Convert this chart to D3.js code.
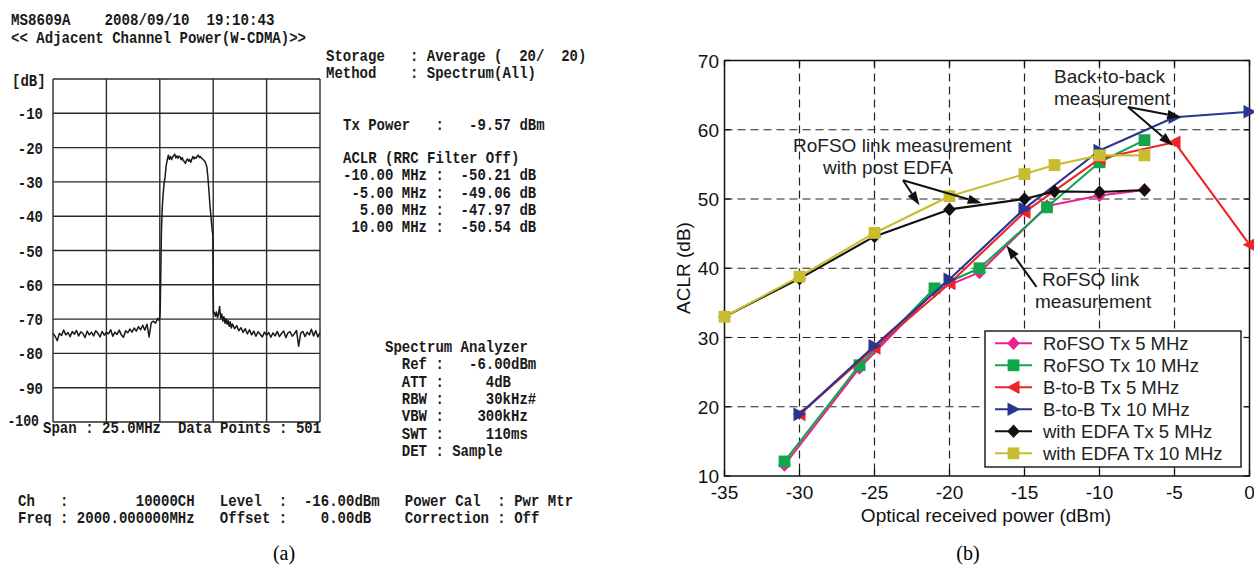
<!DOCTYPE html>
<html>
<head>
<meta charset="utf-8">
<script src="https://cdn.jsdelivr.net/npm/d3@7"></script>
<style>
  html, body { margin: 0; padding: 0; background: #fff; }
  svg { display: block; }
</style>
</head>
<body>
<svg id="fig" width="1254" height="570"></svg>
<script>
// ================= Panel (a): spectrum analyzer screen =================
// Trace: frequency offset from 2000 MHz carrier (MHz) and level (dB)
const specFreq = [
  -12.5,-12.3,-12.1,-11.9,-11.7,-11.5,-11.3,-11.1,-10.9,-10.7,-10.5,-10.3,-10.1,-9.9,-9.7,-9.5,
  -9.3,-9.1,-8.9,-8.7,-8.5,-8.3,-8.1,-7.9,-7.7,-7.5,-7.3,-7.1,-6.9,-6.7,-6.5,-6.3,-6.1,-5.9,
  -5.7,-5.5,-5.3,-5.1,-4.9,-4.7,-4.5,-4.3,-4.1,-3.9,-3.7,-3.5,-3.3,-3.1,-2.9,-2.7,-2.6,-2.5,
  -2.46,-2.4,-2.35,-2.28,-2.2,-2.1,-2.0,-1.9,
  -1.8,-1.7,-1.6,-1.5,-1.4,-1.3,-1.2,-1.1,-1.0,-0.9,-0.8,-0.7,-0.6,-0.5,-0.4,-0.3,-0.2,-0.1,
  0.0,0.1,0.2,0.3,0.4,0.5,0.6,0.7,0.8,0.9,1.0,1.1,1.2,1.3,1.4,1.5,1.6,1.7,1.8,
  1.9,2.0,2.1,2.2,2.3,2.4,2.47,2.49,2.53,
  2.6,2.7,2.8,2.9,3.0,3.1,3.2,3.3,3.4,3.5,3.6,3.7,3.8,3.9,4.0,4.1,4.2,4.3,4.5,4.7,4.9,5.1,
  5.3,5.5,5.7,5.9,6.1,6.3,6.5,6.7,6.9,7.1,7.3,7.5,7.7,7.9,8.1,8.3,8.5,8.7,8.9,9.1,9.3,9.5,
  9.7,9.9,10.1,10.3,10.5,10.7,10.9,11.1,11.3,11.5,11.7,11.9,12.1,12.3,12.5
];
const specLevel = [
  -74.2,-75.0,-76.3,-74.1,-74.8,-73.2,-74.6,-73.9,-75.1,-73.6,-74.4,-73.3,-74.9,-73.7,-74.2,-75.4,
  -73.5,-74.6,-73.8,-74.9,-73.4,-74.1,-75.2,-73.6,-74.7,-73.9,-74.3,-73.1,-75.0,-73.8,-74.5,-73.2,-74.6,-75.3,
  -73.4,-74.0,-72.9,-73.8,-72.6,-73.5,-72.2,-73.1,-71.8,-73.2,-71.5,-75.2,-71.0,-70.6,-71.2,-69.8,-70.3,-69.5,
  -67.0,-55.0,-45.0,-38.0,-34.0,-30.5,-28.4,-25.2,
  -23.6,-22.2,-23.4,-22.6,-23.5,-22.8,-22.3,-21.9,-23.0,-22.4,-23.1,-22.5,-22.7,-23.5,-22.9,-23.8,-24.1,-24.6,
  -23.7,-23.3,-24.0,-23.5,-24.3,-23.4,-22.6,-23.3,-22.8,-23.1,-22.5,-22.2,-22.9,-22.6,-23.1,-23.3,-23.6,-23.9,-24.6,
  -25.5,-28.5,-32.5,-37.0,-40.5,-44.0,-45.5,-60.5,-68.3,
  -68.0,-69.2,-67.9,-69.6,-68.4,-66.3,-69.8,-68.5,-70.6,-69.3,-71.2,-69.9,-71.5,-70.4,-72.1,-70.8,-72.6,-71.4,-72.8,-71.9,-73.4,-72.5,
  -73.9,-72.8,-74.3,-73.1,-74.6,-73.5,-75.0,-73.7,-74.4,-75.2,-73.8,-74.7,-73.9,-75.3,-74.0,-74.9,-73.6,-75.1,-74.2,-73.5,-75.4,-74.0,
  -73.7,-75.0,-74.3,-73.3,-77.9,-74.1,-73.6,-75.1,-73.8,-74.6,-73.0,-74.9,-73.4,-75.2,-73.9
];
const specLevelTicks = [-10, -20, -30, -40, -50, -60, -70, -80, -90, -100];
const specFreqGrid = [-12.5, -7.5, -2.5, 2.5, 7.5, 12.5];

const screenHeader = [
  "MS8609A    2008/09/10  19:10:43",
  "<< Adjacent Channel Power(W-CDMA)>>"
];
const screenSettings = [
  "Storage   : Average (  20/  20)",
  "Method    : Spectrum(All)"
];
const txPowerLine = "Tx Power   :   -9.57 dBm";
const aclrLines = [
  "ACLR (RRC Filter Off)",
  "-10.00 MHz :  -50.21 dB",
  " -5.00 MHz :  -49.06 dB",
  "  5.00 MHz :  -47.97 dB",
  " 10.00 MHz :  -50.54 dB"
];
const analyzerLines = [
  "Spectrum Analyzer",
  "  Ref :   -6.00dBm",
  "  ATT :     4dB",
  "  RBW :     30kHz#",
  "  VBW :    300kHz",
  "  SWT :     110ms",
  "  DET : Sample"
];
const footerLines = [
  "Ch   :        10000CH   Level  :  -16.00dBm   Power Cal  : Pwr Mtr",
  "Freq : 2000.000000MHz   Offset :    0.00dB    Correction : Off"
];
const spanLine = "Span : 25.0MHz  Data Points : 501";

// ================= Panel (b): ACLR vs optical received power =================
const powerTicks = [-35, -30, -25, -20, -15, -10, -5, 0];
const aclrTicks = [10, 20, 30, 40, 50, 60, 70];

const rofso5Power  = [-31, -26, -21, -18, -13.5, -10, -7];
const rofso5Aclr   = [11.6, 25.6, 36.7, 39.4, 49.0, 50.5, 51.3];
const rofso10Power = [-31, -26, -21, -18, -13.5, -10, -7];
const rofso10Aclr  = [12.1, 26.0, 37.1, 40.0, 48.8, 55.3, 58.5];
const b2b5Power    = [-30, -25, -20, -15, -10, -5, 0];
const b2b5Aclr     = [18.9, 28.5, 37.8, 48.1, 55.8, 58.2, 43.4];
const b2b10Power   = [-30, -25, -20, -15, -10, -5, 0];
const b2b10Aclr    = [18.9, 28.8, 38.4, 48.6, 57.0, 61.8, 62.6];
const edfa5Power   = [-35, -30, -25, -20, -15, -13, -10, -7];
const edfa5Aclr    = [33.0, 38.5, 44.6, 48.5, 50.0, 51.1, 51.0, 51.3];
const edfa10Power  = [-35, -30, -25, -20, -15, -13, -10, -7];
const edfa10Aclr   = [33.0, 38.8, 45.1, 50.4, 53.6, 54.9, 56.3, 56.3];

const seriesNames   = ["RoFSO Tx 5 MHz", "RoFSO Tx 10 MHz", "B-to-B Tx 5 MHz",
                       "B-to-B Tx 10 MHz", "with EDFA Tx 5 MHz", "with EDFA Tx 10 MHz"];
const seriesColors  = ["#ec1f8e", "#12a64b", "#ee2328", "#2a3592", "#111111", "#c8bd2f"];
const seriesMarkers = ["diamond", "square", "left", "right", "diamond", "square"];
const seriesPower   = [rofso5Power, rofso10Power, b2b5Power, b2b10Power, edfa5Power, edfa10Power];
const seriesAclr    = [rofso5Aclr, rofso10Aclr, b2b5Aclr, b2b10Aclr, edfa5Aclr, edfa10Aclr];

// =====================================================================
const svg = d3.select("#fig");
svg.append("rect").attr("width", 1254).attr("height", 570).attr("fill", "#fff");

// ---------- panel (a) ----------
const A = svg.append("g");
const fx = d3.scaleLinear().domain([-12.5, 12.5]).range([53, 320]);
const fy = d3.scaleLinear().domain([-100, 0]).range([422, 79]);
const MONO = "'Liberation Mono', 'DejaVu Sans Mono', monospace";

function mono(g, x, y, str, cw) {
  g.append("text")
    .attr("x", x).attr("y", y)
    .attr("textLength", str.length * cw)
    .attr("lengthAdjust", "spacingAndGlyphs")
    .style("white-space", "pre")
    .attr("font-family", MONO).attr("font-size", 17).attr("font-weight", "bold")
    .attr("fill", "#1a1a1a")
    .text(str);
}

// grid
A.append("g").selectAll("line").data(d3.range(-100, 1, 10)).join("line")
  .attr("x1", fx(-12.5)).attr("x2", fx(12.5))
  .attr("y1", d => fy(d)).attr("y2", d => fy(d))
  .attr("stroke", "#2a2a2a").attr("stroke-width", 1.4);
A.append("g").selectAll("line").data(specFreqGrid).join("line")
  .attr("x1", d => fx(d)).attr("x2", d => fx(d))
  .attr("y1", fy(0)).attr("y2", fy(-100))
  .attr("stroke", "#2a2a2a").attr("stroke-width", 1.4);

// trace
const specPts = specFreq.map((f, i) => [f, specLevel[i]]);
A.append("path").datum(specPts)
  .attr("d", d3.line().x(d => fx(d[0])).y(d => fy(d[1])))
  .attr("fill", "none").attr("stroke", "#1a1a1a").attr("stroke-width", 1.5)
  .attr("stroke-linejoin", "round");

const CW = 8.43;
// level labels
specLevelTicks.forEach(v => {
  const label = String(v);
  if (v === -100) mono(A, 39 - label.length * 7.9, fy(v) + 4, label, 7.9);
  else mono(A, 43 - label.length * CW, fy(v) + 6, label, CW);
});
mono(A, 12, 86, "[dB]", CW);
mono(A, 43, 433, spanLine, CW);

mono(A, 11, 25, screenHeader[0], 8.5);
mono(A, 11, 43, screenHeader[1], CW);

screenSettings.forEach((s, i) => mono(A, 326, 61 + i * 17, s, 8.4));
mono(A, 343, 130, txPowerLine, 8.4);
aclrLines.forEach((s, i) => mono(A, 343, 163 + i * 17.3, s, 8.4));
analyzerLines.forEach((s, i) => mono(A, 385, 352 + i * 17.3, s, 8.4));
footerLines.forEach((s, i) => mono(A, 18, 506 + i * 17, s, 8.41));

svg.append("text").attr("x", 284).attr("y", 560).attr("text-anchor", "middle")
  .attr("font-family", "'Liberation Serif', 'Times New Roman', serif").attr("font-size", 20)
  .text("(a)");

// ---------- panel (b) ----------
const B = svg.append("g");
const SANS = "'Liberation Sans', Arial, Helvetica, sans-serif";
const px = d3.scaleLinear().domain([-35, 0]).range([724.5, 1249.5]);
const py = d3.scaleLinear().domain([10, 70]).range([476, 60.5]);

// dashed grid
B.append("g").selectAll("line").data(powerTicks.slice(1, -1)).join("line")
  .attr("x1", d => px(d)).attr("x2", d => px(d)).attr("y1", py(70)).attr("y2", py(10))
  .attr("stroke", "#222").attr("stroke-width", 1.2).attr("stroke-dasharray", "8,5");
B.append("g").selectAll("line").data(aclrTicks.slice(1, -1)).join("line")
  .attr("x1", px(-35)).attr("x2", px(0)).attr("y1", d => py(d)).attr("y2", d => py(d))
  .attr("stroke", "#222").attr("stroke-width", 1.2).attr("stroke-dasharray", "8,5");

// box + inward ticks
B.append("rect").attr("x", px(-35)).attr("y", py(70))
  .attr("width", px(0) - px(-35)).attr("height", py(10) - py(70))
  .attr("fill", "none").attr("stroke", "#111").attr("stroke-width", 1.5);
const TK = 6;
const tickG = B.append("g").attr("stroke", "#111").attr("stroke-width", 1.3);
powerTicks.forEach(v => {
  tickG.append("line").attr("x1", px(v)).attr("x2", px(v)).attr("y1", py(10)).attr("y2", py(10) - TK);
  tickG.append("line").attr("x1", px(v)).attr("x2", px(v)).attr("y1", py(70)).attr("y2", py(70) + TK);
});
aclrTicks.forEach(v => {
  tickG.append("line").attr("x1", px(-35)).attr("x2", px(-35) + TK).attr("y1", py(v)).attr("y2", py(v));
  tickG.append("line").attr("x1", px(0)).attr("x2", px(0) - TK).attr("y1", py(v)).attr("y2", py(v));
});

// tick labels
B.append("g").selectAll("text").data(powerTicks).join("text")
  .attr("x", d => px(d)).attr("y", 499).attr("text-anchor", "middle")
  .attr("font-family", SANS).attr("font-size", 19).attr("fill", "#111")
  .text(d => d);
B.append("g").selectAll("text").data(aclrTicks).join("text")
  .attr("x", 719).attr("y", d => py(d) + 7).attr("text-anchor", "end")
  .attr("font-family", SANS).attr("font-size", 19).attr("fill", "#111")
  .text(d => d);

// axis titles
B.append("text").attr("x", 986).attr("y", 522).attr("text-anchor", "middle")
  .attr("font-family", SANS).attr("font-size", 19).attr("fill", "#111")
  .text("Optical received power (dBm)");
B.append("text").attr("transform", "translate(690,268) rotate(-90)").attr("text-anchor", "middle")
  .attr("font-family", SANS).attr("font-size", 19).attr("fill", "#111")
  .text("ACLR (dB)");

// marker shapes
function markerPath(kind) {
  switch (kind) {
    case "diamond": return "M0,-6.8L6.3,0L0,6.8L-6.3,0Z";
    case "square":  return "M-5.9,-5.9H5.9V5.9H-5.9Z";
    case "left":    return "M-6.8,0L6,-6.8L6,6.8Z";
    case "right":   return "M6.8,0L-6,-6.8L-6,6.8Z";
  }
}

// series
const lineGen = d3.line().x(d => px(d[0])).y(d => py(d[1]));
seriesNames.forEach((name, i) => {
  const pts = seriesPower[i].map((p, j) => [p, seriesAclr[i][j]]);
  const g = B.append("g");
  g.append("path").datum(pts).attr("d", lineGen)
    .attr("fill", "none").attr("stroke", seriesColors[i]).attr("stroke-width", 2.1)
    .attr("stroke-linejoin", "round");
  g.selectAll("path.mk").data(pts).join("path").attr("class", "mk")
    .attr("transform", d => `translate(${px(d[0])},${py(d[1])})`)
    .attr("d", markerPath(seriesMarkers[i]))
    .attr("fill", seriesColors[i]);
});

// annotations (placed in data units)
const notes = [
  { p: -13.03, a: 66.71, t: "Back-to-back" },
  { p: -13.03, a: 63.57, t: "measurement" },
  { p: -30.43, a: 56.79, t: "RoFSO link measurement" },
  { p: -28.43, a: 53.68, t: "with post EDFA" },
  { p: -13.83, a: 37.44, t: "RoFSO link" },
  { p: -14.30, a: 34.26, t: "measurement" }
];
B.append("g").selectAll("text").data(notes).join("text")
  .attr("x", d => px(d.p)).attr("y", d => py(d.a))
  .attr("font-family", SANS).attr("font-size", 19).attr("fill", "#222")
  .text(d => d.t);

const arrows = [
  { from: [-8.1, 63.3], to: [-4.55, 61.8] },
  { from: [-8.1, 63.3], to: [-5.1, 57.7] },
  { from: [-23.1, 52.7], to: [-22.0, 49.1] },
  { from: [-23.1, 52.7], to: [-17.85, 49.4] },
  { from: [-14.2, 37.3], to: [-16.2, 43.3] }
];
const arrG = B.append("g");
arrows.forEach(a => {
  const x0 = px(a.from[0]), y0 = py(a.from[1]);
  const x1 = px(a.to[0]), y1 = py(a.to[1]);
  const ang = Math.atan2(y1 - y0, x1 - x0);
  const L = 14, W = 4.8;
  const bx = x1 - L * Math.cos(ang), by = y1 - L * Math.sin(ang);
  arrG.append("line").attr("x1", x0).attr("y1", y0).attr("x2", bx).attr("y2", by)
    .attr("stroke", "#111").attr("stroke-width", 2);
  const nx = -Math.sin(ang) * W, ny = Math.cos(ang) * W;
  arrG.append("path")
    .attr("d", `M${x1},${y1}L${bx + nx},${by + ny}L${bx - nx},${by - ny}Z`)
    .attr("fill", "#111");
});

// legend
const lg = B.append("g");
lg.append("rect").attr("x", 985).attr("y", 331).attr("width", 256).attr("height", 136)
  .attr("fill", "#fff").attr("stroke", "#111").attr("stroke-width", 1.4);
seriesNames.forEach((name, i) => {
  const yy = 343.3 + i * 22;
  lg.append("line").attr("x1", 995).attr("x2", 1032).attr("y1", yy).attr("y2", yy)
    .attr("stroke", seriesColors[i]).attr("stroke-width", 2.1);
  lg.append("path").attr("transform", `translate(1013.5,${yy})`)
    .attr("d", markerPath(seriesMarkers[i])).attr("fill", seriesColors[i]);
  lg.append("text").attr("x", 1043).attr("y", yy + 6.5)
    .attr("font-family", SANS).attr("font-size", 18.5).attr("fill", "#222")
    .text(name);
});

svg.append("text").attr("x", 968).attr("y", 560).attr("text-anchor", "middle")
  .attr("font-family", "'Liberation Serif', 'Times New Roman', serif").attr("font-size", 20)
  .text("(b)");
</script>
</body>
</html>
